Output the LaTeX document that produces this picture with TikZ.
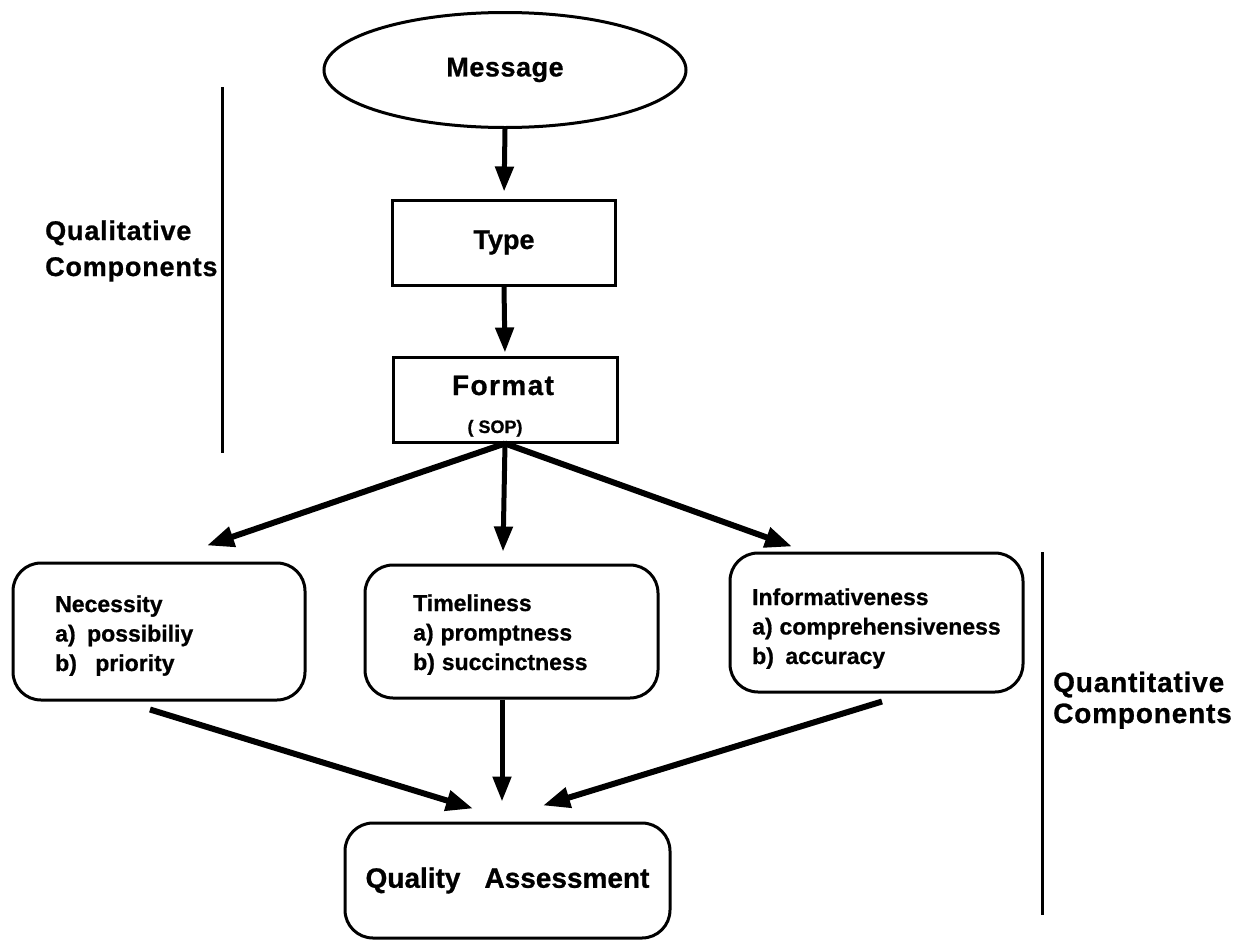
\documentclass[tikz,border=0pt]{standalone}
\usepackage{fontspec}
\setmainfont{Liberation Sans}[BoldFeatures={FakeBold=0.8}]
\newfontfamily\lsA[LetterSpace=2,BoldFeatures={FakeBold=0.8}]{Liberation Sans}
\newfontfamily\lsB[LetterSpace=3,BoldFeatures={FakeBold=0.8}]{Liberation Sans}
\newfontfamily\lsD[LetterSpace=5,BoldFeatures={FakeBold=0.8}]{Liberation Sans}
\usetikzlibrary{arrows.meta,shapes.geometric}
\begin{document}
\begin{tikzpicture}[x=1pt,y=-1pt,
  box/.style={draw,line width=3pt,inner sep=0pt},
  rbox/.style={box,rounded corners=28pt},
  arr/.style={line width=5pt,-{Triangle[length=25pt,width=18pt]}},
  darr/.style={line width=6pt,-{Triangle[length=27pt,width=20pt]}},
  sepline/.style={line width=3pt},
  lbl/.style={inner sep=0pt,anchor=base west},
  boxtext/.style={lbl,font=\bfseries\fontsize{23pt}{29.5pt}\selectfont},
]
\useasboundingbox (0,0) rectangle (1240,940);
\fill[white] (0,0) rectangle (1240,940);

% main column
\node[box,ellipse,minimum width=362pt,minimum height=115pt,
      font=\lsA\bfseries\fontsize{27pt}{30pt}\selectfont] (msg) at (505,70) {\raisebox{-3pt}{Message}};
\node[box,minimum width=223pt,minimum height=85pt,
      font=\bfseries\fontsize{27pt}{30pt}\selectfont] (type) at (504,242.5) {Type};
\node[box,minimum width=224pt,minimum height=85pt] (format) at (505,399.5) {};
\node[inner sep=0pt,anchor=base,font=\lsD\bfseries\fontsize{28pt}{30pt}\selectfont] (formatT) at (503,395) {Format};
\node[inner sep=0pt,anchor=base,font=\bfseries\fontsize{18pt}{20pt}\selectfont] (sop) at (495,433) {( SOP)};

% component boxes
\node[rbox,minimum width=292pt,minimum height=137pt] (nec) at (159,631.5) {};
\node[rbox,minimum width=293pt,minimum height=133pt] (tim) at (511.5,631.5) {};
\node[rbox,minimum width=293pt,minimum height=139pt] (inf) at (876.5,622.5) {};
\node[rbox,minimum width=325pt,minimum height=115pt,
      font=\bfseries\fontsize{28pt}{30pt}\selectfont] (qa) at (507.5,880.5) {Quality\hspace{24pt}Assessment};

\node[boxtext] (necT) at (55,612) {\parbox[t]{240pt}{Necessity\\a)\hspace{0.5em}possibiliy\\b)\hspace{0.8em}priority}};
\node[boxtext] (timT) at (413,611) {\parbox[t]{240pt}{Timeliness\\a)\hspace{0.3em}promptness\\b)\hspace{0.3em}succinctness}};
\node[boxtext] (infT) at (752,605) {\parbox[t]{270pt}{Informativeness\\a)\hspace{0.3em}comprehensiveness\\b)\hspace{0.5em}accuracy}};

% side labels
\node[lbl,font=\lsB\bfseries\fontsize{27pt}{36pt}\selectfont] (qual) at (45,240) {\parbox[t]{200pt}{Qualitative\\Components}};
\node[lbl,font=\lsB\bfseries\fontsize{28pt}{31pt}\selectfont] (quant) at (1053,692) {\parbox[t]{200pt}{Quantitative\\Components}};

% separator lines
\coordinate (q1) at (222,87);
\coordinate (q2) at (222,453);
\coordinate (n1) at (1042,552);
\coordinate (n2) at (1042,915);
\draw[sepline] (q1) -- (q2);
\draw[sepline] (n1) -- (n2);

% arrows
\draw[arr,shorten >=7pt] (msg.south) -- (type.north);
\draw[arr,shorten >=3pt] (type.south) -- (format.north);
\draw[darr] (format.south) -- ([xshift=48pt,yshift=16pt]nec.north);
\draw[arr] (format.south) -- ([xshift=-8.5pt,yshift=12pt]tim.north);
\draw[darr] (format.south) -- ([xshift=-84.5pt,yshift=5pt]inf.north);

\draw[darr] ([xshift=-9pt,yshift=-8pt]nec.south) -- ([xshift=-34.5pt,yshift=13pt]qa.north);
\draw[arr] ([xshift=-9.5pt]tim.south) -- ([xshift=-5.5pt,yshift=20pt]qa.north);
\draw[darr] ([xshift=5.5pt,yshift=-8pt]inf.south) -- ([xshift=35.5pt,yshift=16pt]qa.north);
\end{tikzpicture}
\end{document}
